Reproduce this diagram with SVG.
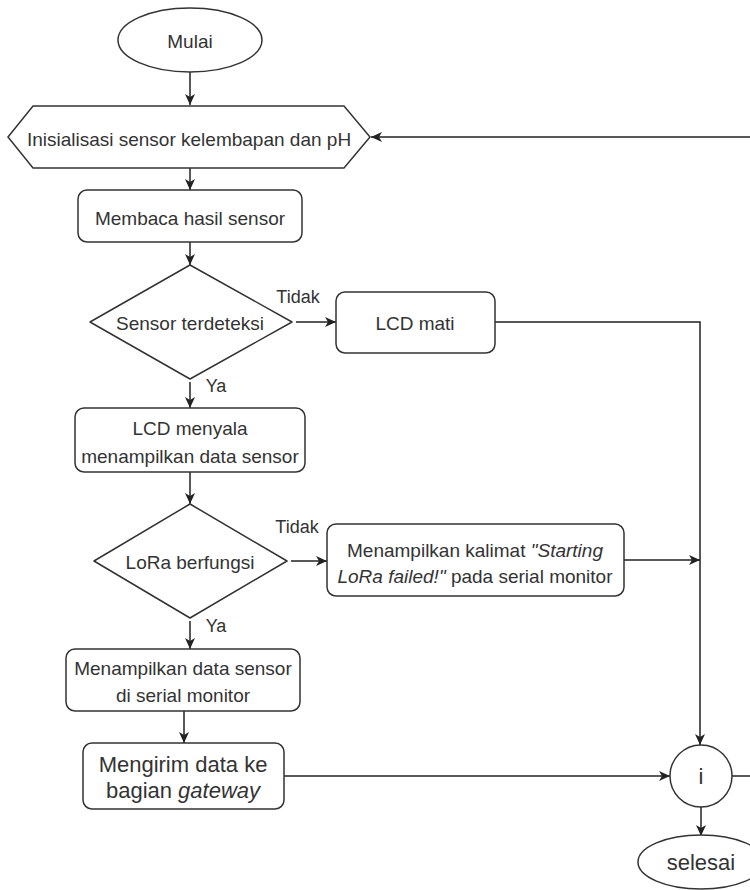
<svg xmlns="http://www.w3.org/2000/svg" width="750" height="890" viewBox="0 0 750 890">
<style>
.s{fill:#fff;stroke:#333;stroke-width:1.5}
.c{fill:none;stroke:#222;stroke-width:1.5}
text{font-family:"Liberation Sans",Arial,sans-serif;font-size:19px;fill:#333;text-anchor:middle}
.lg{font-size:22px}
.lb{font-size:18px}
.it{font-style:italic}
</style>
<defs>
<marker id="a" markerUnits="userSpaceOnUse" markerWidth="12" markerHeight="10" refX="11" refY="5" orient="auto">
<path d="M0,0 L11,5 L0,10 L3,5 Z" fill="#222"/>
</marker>
</defs>
<g id="connectors">
<path class="c" d="M190,72 V105" marker-end="url(#a)"/>
<path class="c" d="M190,168 V190" marker-end="url(#a)"/>
<path class="c" d="M190,242 V265" marker-end="url(#a)"/>
<path class="c" d="M296,322 H336" marker-end="url(#a)"/>
<path class="c" d="M190,382 V408" marker-end="url(#a)"/>
<path class="c" d="M190,472 V504" marker-end="url(#a)"/>
<path class="c" d="M495,322 H700 V745" marker-end="url(#a)"/>
<path class="c" d="M291,561 H327" marker-end="url(#a)"/>
<path class="c" d="M624,560 H700" marker-end="url(#a)"/>
<path class="c" d="M190,621 V649" marker-end="url(#a)"/>
<path class="c" d="M184,711 V743" marker-end="url(#a)"/>
<path class="c" d="M284,776 H670" marker-end="url(#a)"/>
<path class="c" d="M701,807 V836" marker-end="url(#a)"/>
<path class="c" d="M732,776 H752"/>
<path class="c" d="M752,137 H371" marker-end="url(#a)"/>
<text class="lb" x="298" y="303">Tidak</text>
<text class="lb" x="216" y="392">Ya</text>
<text class="lb" x="297" y="533">Tidak</text>
<text class="lb" x="216" y="632">Ya</text>
</g>
<g id="mulai">
<ellipse class="s" cx="190" cy="40" rx="72" ry="32"/>
<text x="190" y="48">Mulai</text>
</g>
<g id="inisialisasi">
<polygon class="s" points="8,137 33,106 344,106 370,137 344,168 33,168"/>
<text x="189" y="146">Inisialisasi sensor kelembapan dan pH</text>
</g>
<g id="membaca">
<rect class="s" x="78" y="190" width="224" height="52" rx="9"/>
<text x="190" y="225">Membaca hasil sensor</text>
</g>
<g id="sensor-terdeteksi">
<polygon class="s" points="190,265 292,322 190,379 90,322" stroke-linejoin="round"/>
<text x="190" y="330">Sensor terdeteksi</text>
</g>
<g id="lcd-mati">
<rect class="s" x="336" y="292" width="159" height="61" rx="9"/>
<text x="415" y="330">LCD mati</text>
</g>
<g id="lcd-menyala">
<rect class="s" x="75" y="408" width="230" height="64" rx="9"/>
<text x="190" y="435">LCD menyala</text>
<text x="190" y="463">menampilkan data sensor</text>
</g>
<g id="lora-berfungsi">
<polygon class="s" points="190,504 287,561 190,618 94,561" stroke-linejoin="round"/>
<text x="190" y="569">LoRa berfungsi</text>
</g>
<g id="lora-failed">
<rect class="s" x="327" y="524" width="297" height="72" rx="9"/>
<text x="475" y="557">Menampilkan kalimat <tspan class="it">"Starting</tspan></text>
<text x="475" y="583"><tspan class="it">LoRa failed!"</tspan> pada serial monitor</text>
</g>
<g id="tampil-serial">
<rect class="s" x="66" y="649" width="234" height="62" rx="9"/>
<text x="183" y="675">Menampilkan data sensor</text>
<text x="183" y="702">di serial monitor</text>
</g>
<g id="kirim-gateway">
<rect class="s" x="83" y="743" width="201" height="66" rx="9"/>
<text class="lg" x="183" y="772">Mengirim data ke</text>
<text class="lg" x="183" y="798">bagian <tspan class="it">gateway</tspan></text>
</g>
<g id="konektor-i">
<ellipse class="s" cx="701" cy="776" rx="31" ry="31"/>
<text class="lg" x="701" y="784">i</text>
</g>
<g id="selesai">
<ellipse class="s" cx="701" cy="862" rx="63" ry="27"/>
<text class="lg" x="701" y="870">selesai</text>
</g>
</svg>
